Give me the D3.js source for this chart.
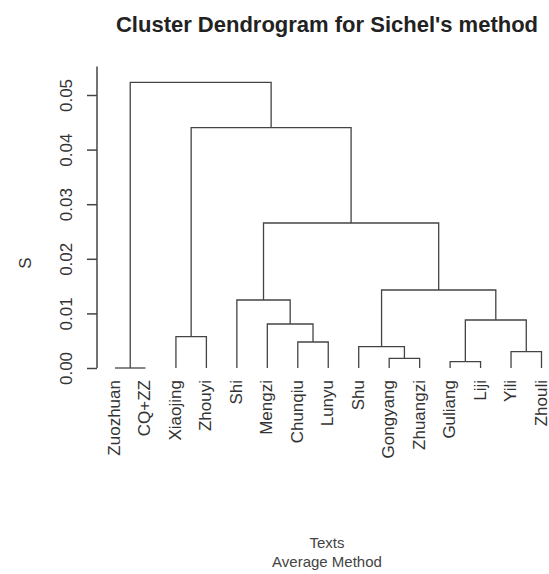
<!DOCTYPE html>
<html>
<head>
<meta charset="utf-8">
<script src="https://cdn.jsdelivr.net/npm/d3@7"></script>
<style>
  html, body { margin: 0; padding: 0; background: #fff; }
  svg { display: block; font-family: "Liberation Sans", Arial, sans-serif; }
</style>
</head>
<body>
<svg id="chart" width="549" height="574"></svg>
<script>
// Leaves in the order they appear along the bottom of the dendrogram
const leaves = ["Zuozhuan", "CQ+ZZ", "Xiaojing", "Zhouyi", "Shi", "Mengzi", "Chunqiu",
                "Lunyu", "Shu", "Gongyang", "Zhuangzi", "Guliang", "Liji", "Yili", "Zhouli"];

// hclust-style merge table: negative = leaf (1-based position), positive = earlier merge step
const mergeLeft   = [-1, -12, -10, -14, -9, -7, -3, -6, 2, -5, 5, 10, 7, 1];
const mergeRight  = [-2, -13, -11, -15,  3, -8, -4,  6, 4,  8, 9, 11, 12, 13];
const mergeHeight = [0.0, 0.00115, 0.00178, 0.00299, 0.0039, 0.00476, 0.00573,
                     0.00806, 0.00879, 0.01245, 0.01429, 0.02656, 0.04401, 0.05233];

const yTicks = [0.00, 0.01, 0.02, 0.03, 0.04, 0.05];

const title = "Cluster Dendrogram for Sichel's method";
const xTitle = "Texts";
const subTitle = "Average Method";
const yTitle = "S";

const svg = d3.select("#chart");
const ink = "#444";

const x = d3.scalePoint().domain(leaves).range([115, 541.5]);
const y = d3.scaleLinear().domain([0, 0.05]).range([368, 95]);

// Tree segments: each merge joins its two children with a bracket
const nodeX = [];
const tree = svg.append("g")
  .attr("fill", "none")
  .attr("stroke", ink)
  .attr("stroke-width", 1.3);

function childPos(id) {
  if (id < 0) return { cx: x(leaves[-id - 1]), h: 0 };
  return { cx: nodeX[id - 1], h: mergeHeight[id - 1] };
}

mergeHeight.forEach((h, i) => {
  const a = childPos(mergeLeft[i]);
  const b = childPos(mergeRight[i]);
  nodeX[i] = (a.cx + b.cx) / 2;
  const p = d3.path();
  p.moveTo(a.cx, y(a.h));
  p.lineTo(a.cx, y(h));
  p.lineTo(b.cx, y(h));
  p.lineTo(b.cx, y(b.h));
  tree.append("path").attr("d", p.toString());
});

// Vertical axis
const axis = d3.axisLeft(y)
  .tickValues(yTicks)
  .tickFormat(d3.format(".2f"))
  .tickSize(10)
  .tickPadding(8);

const gAxis = svg.append("g")
  .attr("transform", "translate(97,0)")
  .call(axis);

gAxis.select(".domain")
  .attr("d", `M0,${y(0)}V${y(0.0552)}`)
  .attr("stroke", ink)
  .attr("stroke-width", 1.5);
gAxis.selectAll(".tick line").attr("stroke", ink).attr("stroke-width", 1.5);
gAxis.selectAll(".tick text")
  .attr("fill", "#333")
  .attr("font-size", 17)
  .attr("transform", "rotate(-90)")
  .attr("x", 0)
  .attr("y", -25)
  .attr("dy", 0)
  .attr("text-anchor", "middle");

// Leaf labels, rotated to read bottom-to-top
svg.append("g")
  .selectAll("text")
  .data(leaves)
  .join("text")
  .attr("transform", d => `translate(${x(d) + 5},380) rotate(-90)`)
  .attr("text-anchor", "end")
  .attr("font-size", 17)
  .attr("fill", "#333")
  .text(d => d);

// Titles
svg.append("text")
  .attr("x", 327).attr("y", 32)
  .attr("text-anchor", "middle")
  .attr("font-size", 22)
  .attr("font-weight", "bold")
  .attr("fill", "#222")
  .text(title);

svg.append("text")
  .attr("x", 327).attr("y", 548)
  .attr("text-anchor", "middle")
  .attr("font-size", 15)
  .attr("fill", "#444")
  .text(xTitle);

svg.append("text")
  .attr("x", 327).attr("y", 567)
  .attr("text-anchor", "middle")
  .attr("font-size", 15)
  .attr("fill", "#444")
  .text(subTitle);

svg.append("text")
  .attr("transform", "translate(31,263) rotate(-90)")
  .attr("text-anchor", "middle")
  .attr("font-size", 17)
  .attr("fill", "#333")
  .text(yTitle);
</script>
</body>
</html>
